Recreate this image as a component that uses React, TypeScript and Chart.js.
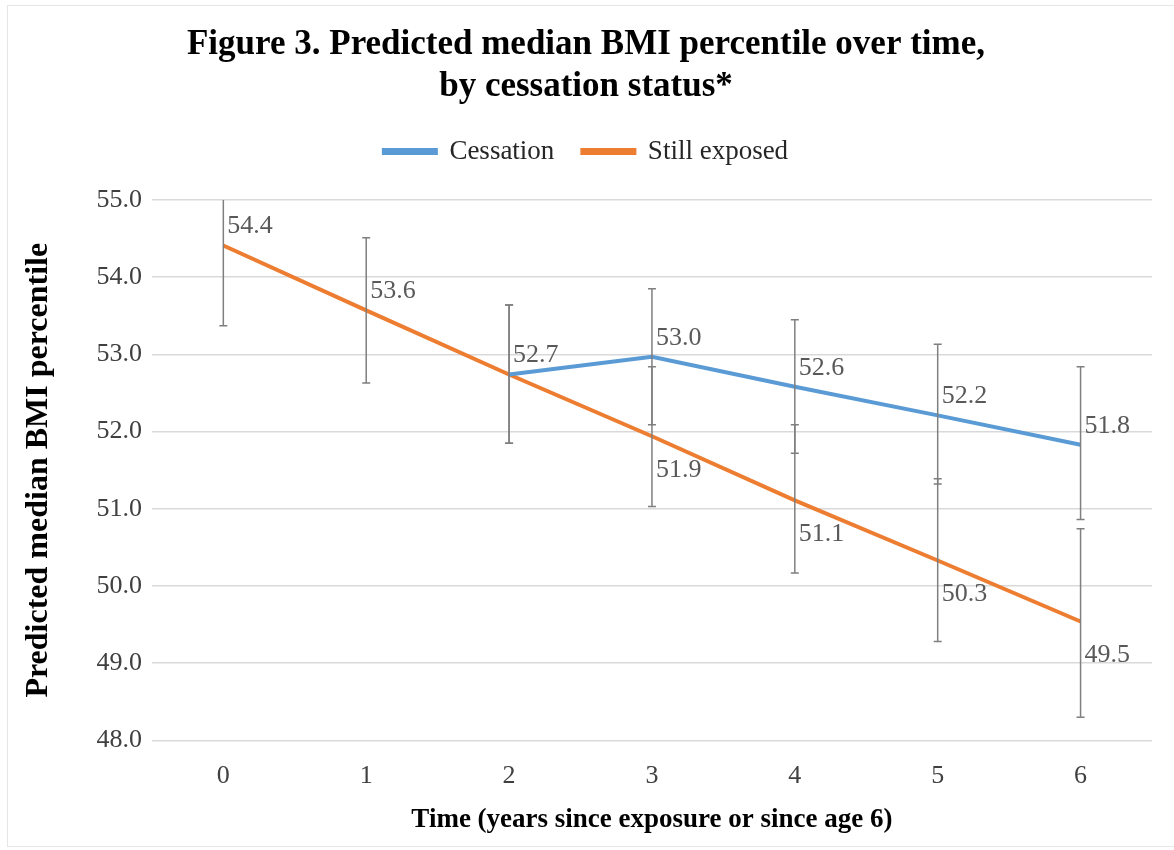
import React, { useEffect, useRef } from "react";
import { Chart, registerables } from "chart.js";

Chart.register(...registerables);

const timeLabels = ["0", "1", "2", "3", "4", "5", "6"];

const cessationValues: (number | null)[] = [null, null, 52.74, 52.97, 52.58, 52.21, 51.83];
const cessationLower: (number | null)[] = [null, null, 51.85, 52.09, 51.72, 51.32, 50.86];
const cessationUpper: (number | null)[] = [null, null, 53.64, 53.85, 53.45, 53.13, 52.84];

const exposedValues: number[] = [54.41, 53.57, 52.74, 51.94, 51.11, 50.33, 49.54];
const exposedLower: number[] = [53.37, 52.63, 51.85, 51.03, 50.17, 49.28, 48.3];
const exposedUpper: number[] = [55.45, 54.51, 53.64, 52.84, 52.09, 51.39, 50.74];

const yTicks = [48, 49, 50, 51, 52, 53, 54, 55];

const SERIF = "'Liberation Serif', 'Times New Roman', serif";
const BLUE = "#5B9BD5";
const ORANGE = "#ED7D31";

const legendSpacePlugin = {
  id: "legendSpace",
  beforeInit(chart: any) {
    const legend = chart.legend;
    if (!legend) return;
    const orig = legend.fit;
    legend.fit = function () {
      orig.call(this);
      this.height += 25;
    };
  },
};

const errorBarPlugin = {
  id: "errorBars",
  afterDatasetsDraw(chart: any) {
    const ctx = chart.ctx;
    const area = chart.chartArea;
    const xs = chart.scales.x;
    const ys = chart.scales.y;
    ctx.save();
    ctx.beginPath();
    ctx.rect(area.left, area.top, area.right - area.left, area.bottom - area.top);
    ctx.clip();
    ctx.strokeStyle = "#7f7f7f";
    ctx.lineWidth = 1.5;
    chart.data.datasets.forEach((ds: any) => {
      const lo = ds.errLower as (number | null)[];
      const hi = ds.errUpper as (number | null)[];
      lo.forEach((l, i) => {
        const h = hi[i];
        if (l == null || h == null) return;
        const x = xs.getPixelForValue(i);
        const y1 = ys.getPixelForValue(l);
        const y2 = ys.getPixelForValue(h);
        ctx.beginPath();
        ctx.moveTo(x, y1);
        ctx.lineTo(x, y2);
        ctx.moveTo(x - 4, y1);
        ctx.lineTo(x + 4, y1);
        ctx.moveTo(x - 4, y2);
        ctx.lineTo(x + 4, y2);
        ctx.stroke();
      });
    });
    ctx.restore();

    // value labels
    ctx.save();
    ctx.font = `26px ${SERIF}`;
    ctx.fillStyle = "#595959";
    ctx.textAlign = "left";
    ctx.textBaseline = "middle";
    const cess = chart.data.datasets[0].data as (number | null)[];
    chart.data.datasets.forEach((ds: any, di: number) => {
      (ds.data as (number | null)[]).forEach((v, i) => {
        if (v == null) return;
        const x = xs.getPixelForValue(i);
        const y = ys.getPixelForValue(v);
        let dy = -19;
        if (di === 1) {
          const c = cess[i];
          if (c != null) {
            if (Math.abs(c - v) < 0.05) return;
            dy = 34;
          }
        }
        ctx.fillText(v.toFixed(1), x + 4, y + dy);
      });
    });
    ctx.restore();
  },
};

export default function App() {
  const ref = useRef<HTMLCanvasElement>(null);
  useEffect(() => {
    if (!ref.current) return;
    const chart = new Chart(ref.current, {
      type: "line",
      data: {
        labels: timeLabels,
        datasets: [
          {
            label: "Cessation",
            data: cessationValues,
            borderColor: BLUE,
            backgroundColor: BLUE,
            borderWidth: 4,
            pointRadius: 0,
            tension: 0,
            errLower: cessationLower,
            errUpper: cessationUpper,
          } as any,
          {
            label: "Still exposed",
            data: exposedValues,
            borderColor: ORANGE,
            backgroundColor: ORANGE,
            borderWidth: 4,
            pointRadius: 0,
            tension: 0,
            errLower: exposedLower,
            errUpper: exposedUpper,
          } as any,
        ],
      },
      options: {
        responsive: false,
        animation: false,
        layout: { padding: { left: 20, right: 22, top: 0, bottom: 14 } },
        plugins: {
          tooltip: { enabled: false },
          title: {
            display: true,
            text: [
              "Figure 3. Predicted median BMI percentile over time,",
              "by cessation status*",
            ],
            color: "#000000",
            font: { family: SERIF, size: 35, weight: "bold", lineHeight: 1.2 },
            padding: { top: 24, bottom: 2 },
          },
          legend: {
            display: true,
            position: "top",
            labels: {
              color: "#262626",
              font: { family: SERIF, size: 27 },
              boxWidth: 52,
              boxHeight: 3,
              padding: 28,
            },
          },
        },
        scales: {
          x: {
            offset: true,
            grid: { display: false },
            border: { display: false },
            ticks: {
              color: "#404040",
              font: { family: SERIF, size: 26 },
              padding: 12,
            },
            title: {
              display: true,
              text: "Time (years since exposure or since age 6)",
              color: "#000000",
              font: { family: SERIF, size: 27, weight: "bold" },
              padding: { top: 0, bottom: 0 },
            },
          },
          y: {
            min: 48,
            max: 55,
            afterBuildTicks(scale: any) {
              scale.ticks = yTicks.map((v) => ({ value: v }));
            },
            grid: { color: "#d9d9d9", lineWidth: 1.5, drawTicks: false },
            border: { display: false },
            ticks: {
              color: "#404040",
              font: { family: SERIF, size: 26 },
              padding: 10,
              callback: (v: any) => Number(v).toFixed(1),
            },
            title: {
              display: true,
              text: "Predicted median BMI percentile",
              color: "#000000",
              font: { family: SERIF, size: 32, weight: "bold" },
              padding: { top: 0, bottom: 28 },
            },
          },
        },
      } as any,
      plugins: [legendSpacePlugin, errorBarPlugin],
    });
    return () => chart.destroy();
  }, []);

  return (
    <div
      style={{
        position: "absolute",
        left: 0,
        top: 0,
        width: 1174,
        height: 850,
        background: "#ffffff",
      }}
    >
      <div
        style={{
          position: "absolute",
          left: 7,
          top: 5,
          width: 1180,
          height: 842,
          border: "1px solid #e6e6e6",
          boxSizing: "border-box",
        }}
      />
      <canvas ref={ref} width={1174} height={850} style={{ position: "absolute", left: 0, top: 0 }} />
    </div>
  );
}
